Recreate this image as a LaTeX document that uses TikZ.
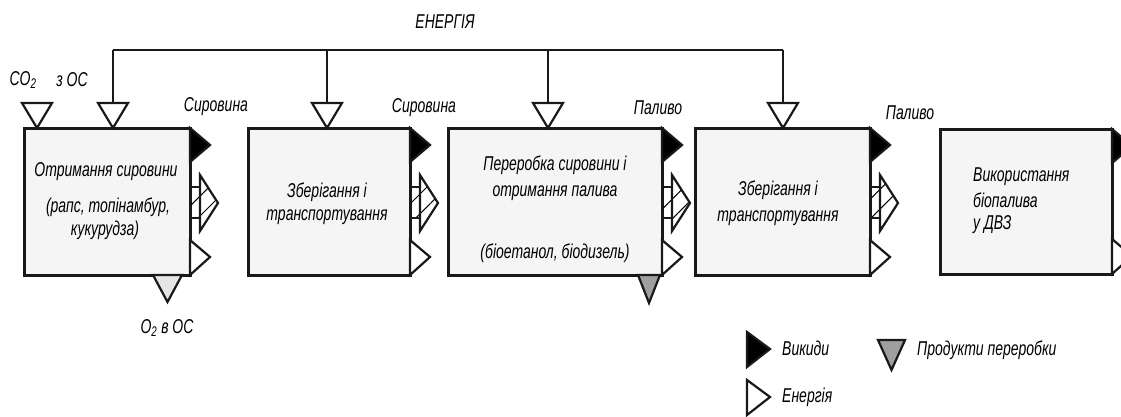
\documentclass[tikz,border=0pt]{standalone}
\usepackage{fontspec}
\setmainfont{Liberation Sans}[FakeStretch=0.7]
\usetikzlibrary{calc,patterns.meta}
\tikzset{
  stage/.style={draw=black!90, line width=3pt, fill=gray!8, inner sep=0pt, outer sep=0pt},
  txt/.style={font=\fontsize{20}{23}\selectfont\itshape, inner sep=0pt},
  tri/.style={draw=black!90, line width=2.2pt, line join=miter, fill=white},
  bus/.style={draw=black!90, line width=2.6pt},
}
% input triangle, base centre given
\newcommand{\intri}[1]{\draw[tri] ($(#1)+(-15,0)$) -- ($(#1)+(15,0)$) -- ($(#1)+(0,25)$) -- cycle;}
% outputs on the right side of a stage
\newcommand{\outs}[1]{%
  \draw[tri, fill=black] (#1.north east) -- ($(#1.north east)+(20,17)$) -- ($(#1.north east)+(0,34)$) -- cycle;
  \draw[tri] ($(#1.south east)+(0,-35)$) -- ($(#1.south east)+(20,-18)$) -- (#1.south east) -- cycle;}
\newcommand{\hatch}[1]{%
  \draw[tri, fill=none, pattern={Lines[angle=45,distance=14pt,line width=1pt]}]
    ($(#1.north east)+(0,59)$) rectangle ($(#1.north east)+(10,90)$);
  \draw[tri, fill=none, pattern={Lines[angle=45,distance=14pt,line width=1pt]}]
    ($(#1.north east)+(10,47)$) -- ($(#1.north east)+(28,75)$) -- ($(#1.north east)+(10,103)$) -- cycle;}
\begin{document}
\begin{tikzpicture}[x=1pt,y=-1pt]
\useasboundingbox (0,0) rectangle (1121,416);
\node[stage, minimum width=166pt, minimum height=147pt] (s1) at (107,201.5) {};
\node[stage, minimum width=162pt, minimum height=147pt] (s2) at (329,201.5) {};
\node[stage, minimum width=214pt, minimum height=147pt] (s3) at (555,201.5) {};
\node[stage, minimum width=175pt, minimum height=147pt] (s4) at (782.5,201.5) {};
\node[stage, minimum width=172pt, minimum height=145pt] (s5) at (1026,201.5) {};
%
\node[txt] (l11) at (106,172) {Отримання сировини};
\node[txt] (l12) at (108,207) {(рапс, топінамбур,};
\node[txt] (l13) at (105,230) {кукурудза)};
\node[txt] (l21) at (327,192) {Зберігання і};
\node[txt] (l22) at (327,217) {транспортування};
\node[txt] (l31) at (555,165) {Переробка сировини і};
\node[txt] (l32) at (555,193) {отримання палива};
\node[txt] (l33) at (555,253) {(біоетанол, біодизель)};
\node[txt] (l41) at (778,190) {Зберігання і};
\node[txt] (l42) at (778,218) {транспортування};
\node[txt, anchor=west] (l51) at (973,177) {Використання};
\node[txt, anchor=west] (l52) at (973,200) {біопалива};
\node[txt, anchor=west] (l53) at (973,225) {у ДВЗ};
%
\coordinate (e1) at (113,50);
\coordinate (e2) at (327,50);
\coordinate (e3) at (548,50);
\coordinate (e4) at (783,50);
\coordinate (i0) at (37,103);
\coordinate (i1) at (113,103);
\coordinate (i2) at (327,103);
\coordinate (i3) at (548,103);
\coordinate (i4) at (783,103);
\draw[bus] (e1) -- (e4);
\draw[bus] (e1) -- (i1);
\draw[bus] (e2) -- (i2);
\draw[bus] (e3) -- (i3);
\draw[bus] (e4) -- (i4);
\intri{i0} \intri{i1} \intri{i2} \intri{i3} \intri{i4}
%
\outs{s1} \outs{s2} \outs{s3} \outs{s4} \outs{s5}
\hatch{s1} \hatch{s2} \hatch{s3} \hatch{s4}
\draw[tri, fill=gray!20] (s1.south) ++(46,0) coordinate (o1) -- ++(29,0) -- ++(-14.5,27) -- cycle;
\draw[tri, fill=gray!75] (s3.south) ++(83,0) coordinate (o3) -- ++(22,0) -- ++(-11,28) -- cycle;
%
\node[txt] (en) at (445,22) {ЕНЕРГІЯ};
\node[txt] (co) at (23,80) {CO\textsubscript{2}};
\node[txt] (os) at (72,80) {з ОС};
\node[txt] (r1) at (216,107) {Сировина};
\node[txt] (r2) at (424,108) {Сировина};
\node[txt] (p1) at (658,108) {Паливо};
\node[txt] (p2) at (910,113) {Паливо};
\node[txt] (ox) at (167,328) {O\textsubscript{2} в ОС};
%
\coordinate (k1) at (747,332);
\coordinate (k2) at (747,380);
\coordinate (k3) at (878,340);
\draw[tri, fill=black] (k1) -- ++(23,17) -- ++(-23,18) -- cycle;
\draw[tri] (k2) -- ++(23,17) -- ++(-23,18) -- cycle;
\draw[tri, fill=gray!75] (k3) -- ++(27,0) -- ++(-13.5,30) -- cycle;
\node[txt, anchor=west] (v1) at (782,348) {Викиди};
\node[txt, anchor=west] (v2) at (782,397) {Енергія};
\node[txt, anchor=west] (v3) at (917,350) {Продукти переробки};
\end{tikzpicture}
\end{document}
